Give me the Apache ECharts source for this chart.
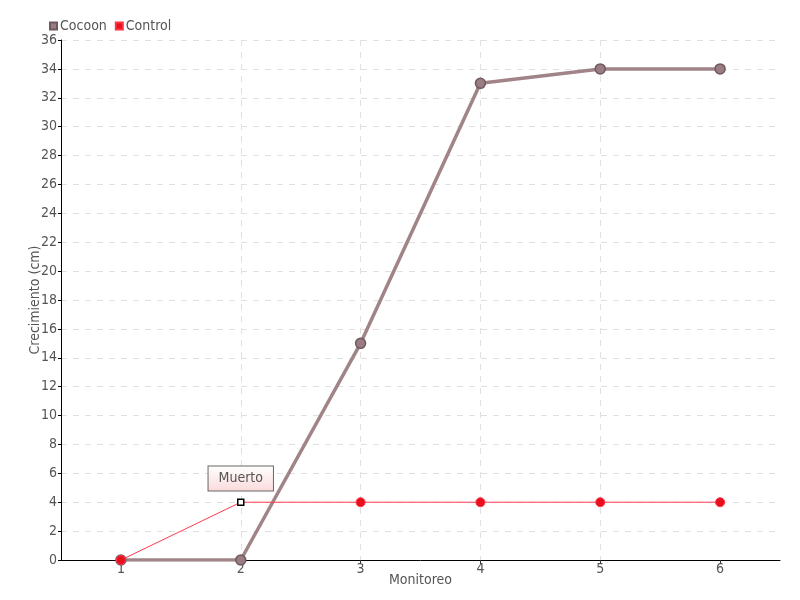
<!DOCTYPE html>
<html><head><meta charset="utf-8">
<script src="https://cdn.jsdelivr.net/npm/echarts@6/dist/echarts.min.js"></script>
<style>html,body{margin:0;padding:0;background:#fff}#c{width:800px;height:600px}</style>
</head><body><div id="c"></div>
<script>
const monitoreo = [1, 2, 3, 4, 5, 6];
const cocoon = [0, 0, 15, 33, 34, 34];
const control = [0, 4, 4, 4, 4, 4];
const yTicks = [0,2,4,6,8,10,12,14,16,18,20,22,24,26,28,30,32,34,36];
const annotIndex = 1;
const annotText = 'Muerto';

const FONT = "'DejaVu Sans Condensed','Liberation Sans Narrow',sans-serif";
const chart = echarts.init(document.getElementById('c'), null, {renderer:'canvas'});

const controlData = monitoreo.map((m, i) => {
  const d = {value: [m, control[i]]};
  if (i === annotIndex) {
    d.symbol = 'rect';
    d.symbolSize = 6;
    d.itemStyle = {color: '#ffffff', borderColor: '#000000', borderWidth: 1.5};
    d.label = {
      show: true, formatter: annotText, position: 'top', distance: 8,
      color: '#555', fontSize: 14, fontFamily: FONT,
      backgroundColor: {type:'linear', x:0, y:0, x2:0, y2:1, colorStops:[{offset:0,color:'#ffffff'},{offset:1,color:'#fbdada'}]},
      borderColor: '#666', borderWidth: 1, padding: [5, 10, 5, 10]
    };
  }
  return d;
});

chart.setOption({
  animation: false,
  textStyle: {fontFamily: FONT},
  legend: {
    left: 44, top: 14, itemWidth: 7, itemHeight: 7, itemGap: 8,
    icon: 'rect',
    textStyle: {color: '#555', fontSize: 14, fontFamily: FONT, padding: [0,0,0,-2]},
    data: ['Cocoon', 'Control']
  },
  grid: {left: 61, right: 20, top: 40, bottom: 40, containLabel: false},
  xAxis: {
    type: 'value', min: 0.5, max: 6.5,
    name: 'Monitoreo', nameLocation: 'middle', nameGap: 13, nameMoveOverlap: false,
    nameTextStyle: {color: '#555', fontSize: 14, fontFamily: FONT},
    axisLine: {show: true, lineStyle: {color: '#000', width: 1}},
    axisTick: {show: true, length: 4, lineStyle: {color: '#333'}, customValues: monitoreo},
    axisLabel: {color: '#555', fontSize: 14, fontFamily: FONT, margin: 2, customValues: monitoreo},
    splitLine: {show: true, showMinLine: false, showMaxLine: false, lineStyle: {color: '#e0e0e0', type: [6, 6]}}
  },
  yAxis: {
    type: 'value', min: 0, max: 36, interval: 2,
    name: 'Crecimiento (cm)', nameLocation: 'middle', nameGap: 19, nameMoveOverlap: false,
    nameTextStyle: {color: '#555', fontSize: 14, fontFamily: FONT},
    axisLine: {show: true, lineStyle: {color: '#000', width: 1}},
    axisTick: {show: true, length: 3, lineStyle: {color: '#000'}},
    axisLabel: {color: '#555', fontSize: 14, fontFamily: FONT, margin: 4,
      formatter: v => yTicks.includes(v) ? String(v) : ''},
    splitLine: {show: true, showMinLine: false, lineStyle: {color: '#e0e0e0', type: [6, 6]}}
  },
  series: [
    {
      name: 'Cocoon', type: 'line',
      data: monitoreo.map((m, i) => [m, cocoon[i]]),
      symbol: 'circle', symbolSize: 10,
      lineStyle: {color: '#a08488', width: 3.5},
      itemStyle: {color: '#9a7d82', borderColor: '#6e5a5e', borderWidth: 1.5},
      z: 2
    },
    {
      name: 'Control', type: 'line',
      data: controlData,
      symbol: 'circle', symbolSize: 9,
      lineStyle: {color: '#ff3b4e', width: 1},
      itemStyle: {color: '#e8101e', borderColor: '#ff3344', borderWidth: 1},
      z: 3
    }
  ]
});
</script></body></html>
